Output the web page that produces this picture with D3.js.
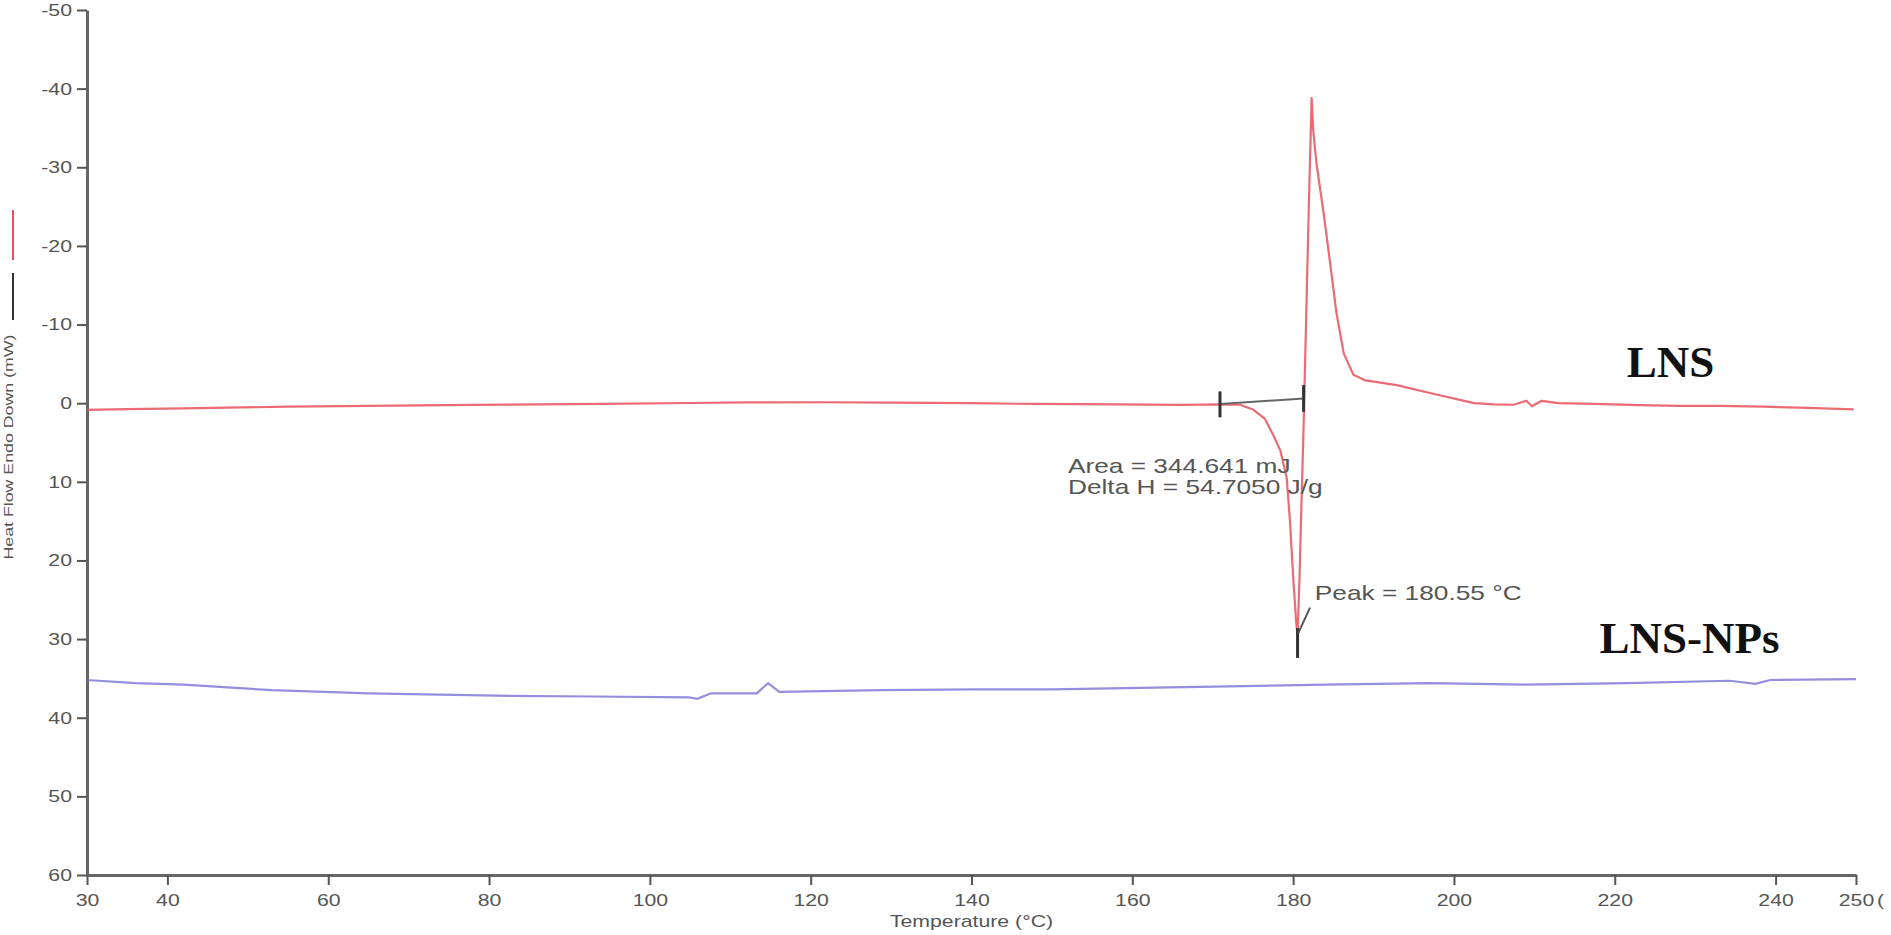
<!DOCTYPE html>
<html>
<head>
<meta charset="utf-8">
<script src="https://cdn.jsdelivr.net/npm/d3@7"></script>
<style>
  body { margin: 0; background: #fff; }
  .inst { font-family: "Liberation Sans", Arial, sans-serif; fill: #555; }
  .tag { font-family: "Liberation Serif", "Times New Roman", serif; font-weight: bold; fill: #111; }
</style>
</head>
<body>
<svg id="dsc-svg"></svg>
<script>
var w = 1891;
var h = 935;

// DSC curves (temperature in C, heat flow in mW, endo down)
var lnsTemp = [30, 35, 42, 55, 65, 78, 94, 105, 112, 122, 130, 140, 148, 158, 166, 171, 173.4,
  175, 176.5, 177.6, 178.4, 179.2, 179.6, 180.0, 180.35, 180.55, 180.8, 181.0, 181.3, 181.6, 181.95,
  182.3, 182.5, 182.9, 183.8, 184.6, 185.4, 186.3, 187.5, 189, 192.9, 197, 202.5, 205, 207.4, 209,
  209.7, 210.9, 213, 217.4, 223, 228, 233, 238.4, 244, 249.7];
var lnsFlow = [0.85, 0.75, 0.65, 0.45, 0.35, 0.22, 0.1, -0.02, -0.1, -0.12, -0.07, 0.0, 0.1, 0.15, 0.22, 0.15, 0.2,
  0.8, 2.0, 4.2, 6.0, 9.5, 14.9, 22, 27.5, 29.5, 22, 14, 3, -10, -25,
  -38.8, -34.7, -30.5, -24.1, -17.8, -11.4, -6.3, -3.6, -2.9, -2.3, -1.3, 0, 0.15, 0.2, -0.3,
  0.4, -0.3, 0.0, 0.1, 0.25, 0.35, 0.35, 0.45, 0.6, 0.8];

var npsTemp = [30, 36, 42, 47, 53, 65, 81, 93, 104.8, 105.9, 107.6, 113.3, 114.7, 116.1, 128.8,
  140.5, 150, 166.5, 184, 197, 209, 221.6, 234.3, 237.5, 239.3, 250];
var npsFlow = [35.2, 35.6, 35.8, 36.1, 36.5, 36.9, 37.2, 37.3, 37.4, 37.6, 36.9, 36.9, 35.6, 36.7, 36.5,
  36.4, 36.4, 36.1, 35.8, 35.6, 35.8, 35.6, 35.3, 35.7, 35.2, 35.1];

var xTicks = [30, 40, 60, 80, 100, 120, 140, 160, 180, 200, 220, 240, 250];
var yTicks = [-50, -40, -30, -20, -10, 0, 10, 20, 30, 40, 50, 60];

// integration limits and peak found by the instrument
var onsetT = 170.9, endT = 181.3, peakT = 180.55;
var areaText = ["Area = 344.641 mJ", "Delta H = 54.7050 J/g"];
var peakText = "Peak = 180.55 \u00B0C";
var seriesNames = ["LNS", "LNS-NPs"];

var xScale = d3.scaleLinear().domain([30, 250]).range([87, 1856]);
var yScale = d3.scaleLinear().domain([-50, 60]).range([10, 875]);

// instrument text is horizontally stretched in the original picture
function stretch(sel, k){
  sel.each(function(){
    var len = this.getComputedTextLength();
    d3.select(this).attr("textLength", len * k).attr("lengthAdjust", "spacingAndGlyphs");
  });
}

makeVis();

function makeVis(){
  var svg = d3.select("#dsc-svg")
      .attr("width", w)
      .attr("height", h);

  var xAxis = d3.axisBottom(xScale)
      .tickValues(xTicks)
      .tickSize(10)
      .tickSizeOuter(0)
      .tickPadding(9)
      .tickFormat(function(d){ return String(d); });

  var yAxis = d3.axisLeft(yScale)
      .tickValues(yTicks)
      .tickSize(10)
      .tickSizeOuter(0)
      .tickPadding(5)
      .tickFormat(function(d){ return String(d); });

  svg.append("g")
      .attr("class", "x axis")
      .attr("transform", "translate(0," + yScale(60) + ")")
      .call(xAxis);

  svg.append("g")
      .attr("class", "y axis")
      .attr("transform", "translate(" + xScale(30) + ",0)")
      .call(yAxis);

  svg.selectAll(".axis .domain")
      .attr("stroke", "#666")
      .attr("stroke-width", 3);
  svg.selectAll(".axis .tick line")
      .attr("stroke", "#555")
      .attr("stroke-width", 2);
  svg.selectAll(".axis .tick text")
      .attr("class", "inst")
      .attr("font-size", "17px");
  stretch(svg.selectAll(".axis .tick text"), 1.25);

  // the unit after the last tick label is cut by the picture edge, only its bracket shows
  var unit = svg.append("text")
      .attr("class", "inst")
      .attr("x", xScale(250) + 21)
      .attr("y", yScale(60) + 19)
      .attr("dy", "0.71em")
      .attr("font-size", "17px")
      .text("(");
  stretch(unit, 1.25);

  var xt = svg.append("text")
      .attr("class", "inst")
      .attr("text-anchor", "middle")
      .attr("x", (xScale(30) + xScale(250)) / 2)
      .attr("y", 927)
      .attr("font-size", "17px")
      .text("Temperature (\u00B0C)");
  stretch(xt, 1.25);

  svg.append("text")
      .attr("class", "inst")
      .attr("text-anchor", "middle")
      .attr("transform", "translate(13,447) rotate(-90)")
      .attr("font-size", "13px")
      .attr("textLength", 225)
      .attr("lengthAdjust", "spacingAndGlyphs")
      .text("Heat Flow Endo Down (mW)");

  // small curve key beside the axis title
  svg.append("line")
      .attr("x1", 13).attr("x2", 13)
      .attr("y1", 210).attr("y2", 260)
      .attr("stroke", "#e8505c")
      .attr("stroke-width", 2);
  svg.append("line")
      .attr("x1", 13).attr("x2", 13)
      .attr("y1", 273).attr("y2", 320)
      .attr("stroke", "#333")
      .attr("stroke-width", 2);

  var line = d3.line()
      .x(function(d){ return xScale(d[0]); })
      .y(function(d){ return yScale(d[1]); });

  svg.append("path")
      .datum(d3.zip(npsTemp, npsFlow))
      .attr("fill", "none")
      .attr("stroke", "#7a70d4")
      .attr("stroke-opacity", 0.8)
      .attr("stroke-width", 2.2)
      .attr("d", line);

  svg.append("path")
      .datum(d3.zip(lnsTemp, lnsFlow))
      .attr("fill", "none")
      .attr("stroke", "#e8505c")
      .attr("stroke-opacity", 0.85)
      .attr("stroke-width", 2.2)
      .attr("stroke-linejoin", "round")
      .attr("d", line);

  // integration baseline with end markers
  svg.append("line")
      .attr("x1", xScale(onsetT)).attr("y1", yScale(0.1))
      .attr("x2", xScale(endT)).attr("y2", yScale(-0.6))
      .attr("stroke", "#666")
      .attr("stroke-width", 2);
  svg.append("line")
      .attr("x1", xScale(onsetT)).attr("x2", xScale(onsetT))
      .attr("y1", yScale(-1.5)).attr("y2", yScale(1.8))
      .attr("stroke", "#333")
      .attr("stroke-width", 3);
  svg.append("line")
      .attr("x1", xScale(endT)).attr("x2", xScale(endT))
      .attr("y1", yScale(-2.3)).attr("y2", yScale(1.1))
      .attr("stroke", "#333")
      .attr("stroke-width", 3);

  // peak marker and leader
  svg.append("line")
      .attr("x1", xScale(peakT)).attr("x2", xScale(peakT))
      .attr("y1", yScale(28.6)).attr("y2", yScale(32.4))
      .attr("stroke", "#333")
      .attr("stroke-width", 3);
  svg.append("line")
      .attr("x1", xScale(peakT + 0.1)).attr("y1", yScale(29.2))
      .attr("x2", xScale(peakT + 1.55)).attr("y2", yScale(26.0))
      .attr("stroke", "#555")
      .attr("stroke-width", 2);

  var at = svg.selectAll(".area-text")
      .data(areaText)
      .enter()
      .append("text")
      .attr("class", "inst area-text")
      .attr("x", xScale(152))
      .attr("y", function(d, i){ return yScale(8.9) + i * 21; })
      .attr("font-size", "21px")
      .text(function(d){ return d; });
  stretch(at, 1.25);

  var pt = svg.append("text")
      .attr("class", "inst")
      .attr("x", xScale(182.7))
      .attr("y", yScale(25.0))
      .attr("font-size", "21px")
      .text(peakText);
  stretch(pt, 1.25);

  svg.selectAll(".tag")
      .data(seriesNames)
      .enter()
      .append("text")
      .attr("class", "tag")
      .attr("x", function(d, i){ return i == 0 ? xScale(221.5) : xScale(218.1); })
      .attr("y", function(d, i){ return i == 0 ? yScale(-3.3) : yScale(31.8); })
      .attr("font-size", "45px")
      .text(function(d){ return d; });
}
</script>
</body>
</html>
